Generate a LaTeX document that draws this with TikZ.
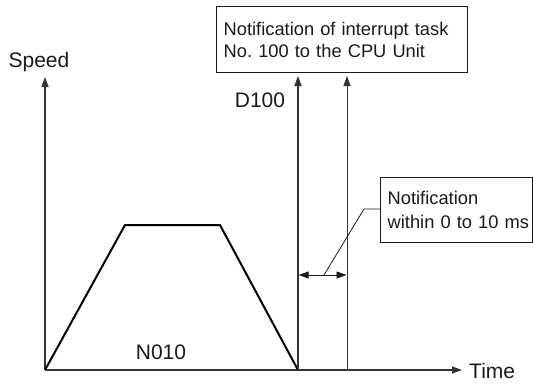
\documentclass[tikz,border=0pt]{standalone}
\usepackage{fontspec}
\setmainfont{Liberation Sans}
\usetikzlibrary{arrows.meta}
\definecolor{ink}{HTML}{1A1A1A}
\definecolor{axisc}{HTML}{333333}
\frenchspacing
\tikzset{
  lbl/.style={font=\fontsize{21}{24}\selectfont, text=ink, inner sep=0pt},
  boxtxt/.style={draw=ink, line width=1.4pt, text=ink, align=left, inner xsep=7pt, inner ysep=0pt, anchor=north west},
  axisline/.style={draw=axisc, line width=1.3pt, -{Triangle[length=10pt,width=7pt]}},
  curve/.style={draw=black, line width=2pt, line join=miter},
  tip/.style={-{Triangle[length=10pt,width=7pt]}},
}
\begin{document}
\begin{tikzpicture}[x=1pt,y=-1pt]
\useasboundingbox (0,0) rectangle (533,384);
% axes
\coordinate (O) at (45,370);
\coordinate (Ytop) at (45,77);
\coordinate (Xend) at (462,370);
\draw[axisline] (O) -- (Ytop);
\draw[axisline] (O) -- (Xend);
\node[lbl] (speed) at (39,62) {Speed};
\node[lbl, anchor=west] (time) at (469,371) {Time};
% trapezoid
\coordinate (A) at (125,225);
\coordinate (B) at (220,225);
\coordinate (C) at (298,370);
\draw[curve] (O) -- (A) -- (B) -- (C);
\node[lbl] (n010) at (161,352) {N010};
\node[lbl] (d100) at (260,100) {D100};
% box 1
\node[boxtxt, font=\fontsize{18.3}{22}\selectfont, minimum width=251pt, minimum height=66pt, text width=237pt] (box1) at (216,6) {\mbox{Notification of interrupt task}\\\mbox{No. 100 to the CPU Unit}};
% vertical lines
\coordinate (L1b) at (298,370);
\coordinate (L1t) at (298,76);
\coordinate (L2b) at (347,370);
\coordinate (L2t) at (347,76);
\draw[draw=axisc, line width=1.4pt, tip] (L1b) -- (L1t);
\draw[draw=axisc, line width=0.9pt, tip] (L2b) -- (L2t);
% double arrow
\coordinate (D1) at (298.7,275);
\coordinate (D2) at (346.5,275);
\coordinate (Dm) at (324,275);
\draw[draw=ink, line width=0.8pt, {Triangle[length=10pt,width=7pt]}-{Triangle[length=10pt,width=7pt]}] (D1) -- (D2);
% box 2
\node[boxtxt, font=\fontsize{18.3}{24}\selectfont, minimum width=152pt, minimum height=65pt, text width=138pt] (box2) at (380,177) {\mbox{Notification}\\\mbox{within 0 to 10 ms}};
\coordinate (K) at (364,209);
\draw[draw=ink, line width=0.8pt] (Dm) -- (K) -- (K -| box2.west);
\end{tikzpicture}
\end{document}
